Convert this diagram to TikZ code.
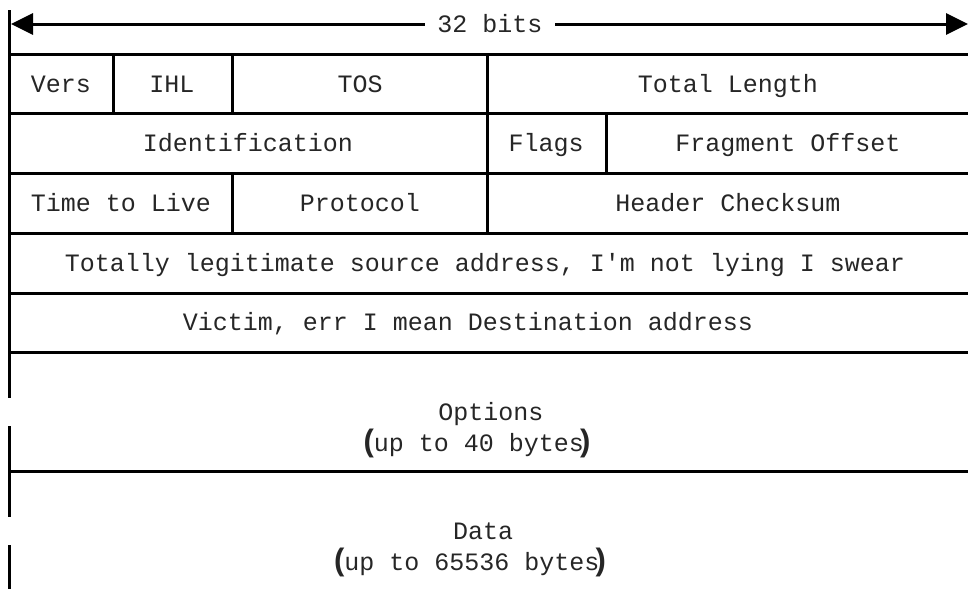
\documentclass[tikz,border=0pt]{standalone}
\usepackage{fontspec}
\setmainfont{Liberation Mono}[Ligatures=TeXOff]
\newfontfamily\parfont{Liberation Sans}
\usetikzlibrary{arrows.meta}
\newcommand{\lp}{{\parfont\bfseries\fontsize{31}{31}\selectfont(}}
\newcommand{\rp}{\kern-4pt{\parfont\bfseries\fontsize{31}{31}\selectfont)}}
\begin{document}
\begin{tikzpicture}[x=1pt,y=-1pt,
  rule/.style={line width=3pt},
  lbl/.style={font=\fontsize{25}{25}\selectfont, text=black!85, inner sep=0pt, anchor=base},
  bitlbl/.style={lbl, fill=white, inner xsep=12pt, inner ysep=4pt}]
\useasboundingbox (0,0) rectangle (968,589);
% row boundaries
\foreach \y in {54,113,173,233,293,352,471}
  \draw[rule] (9,\y) -- (968,\y);
% left vertical line segments
\draw[rule] (9,10) -- (9,398);
\draw[rule] (9,426) -- (9,517);
\draw[rule] (9,545) -- (9,589);
% vertical separators
\draw[rule] (113,54) -- (113,113);
\draw[rule] (232,54) -- (232,113);
\draw[rule] (487,54) -- (487,233);
\draw[rule] (606,113) -- (606,173);
\draw[rule] (232,173) -- (232,233);
% width arrow
\coordinate (al) at (11,24);
\coordinate (ar) at (968,24);
\draw[rule, {Triangle[length=22pt,width=21pt]}-{Triangle[length=22pt,width=21pt]}] (al) -- (ar);
\node[bitlbl] (bits) at (490,32) {32 bits};
% row 1
\node[lbl] (vers) at (61,92) {Vers};
\node[lbl] (ihl) at (172,92) {IHL};
\node[lbl] (tos) at (360,92) {TOS};
\node[lbl] (tlen) at (728,92) {Total Length};
% row 2
\node[lbl] (ident) at (248,151) {Identification};
\node[lbl] (flags) at (546,151) {Flags};
\node[lbl] (frag) at (788,151) {Fragment Offset};
% row 3
\node[lbl] (ttl) at (121,211) {Time to Live};
\node[lbl] (proto) at (360,211) {Protocol};
\node[lbl] (cksum) at (728,211) {Header Checksum};
% row 4, 5
\node[lbl] (src) at (485,271) {Totally legitimate source address, I'm not lying I swear};
\node[lbl] (dst) at (468,330) {Victim, err I mean Destination address};
% options
\node[lbl] (opt) at (491,420) {Options};
\node[lbl] (optsz) at (477,451) {\lp up to 40 bytes\rp};
% data
\node[lbl] (data) at (483,539) {Data};
\node[lbl] (datasz) at (470,570) {\lp up to 65536 bytes\rp};
\end{tikzpicture}
\end{document}
